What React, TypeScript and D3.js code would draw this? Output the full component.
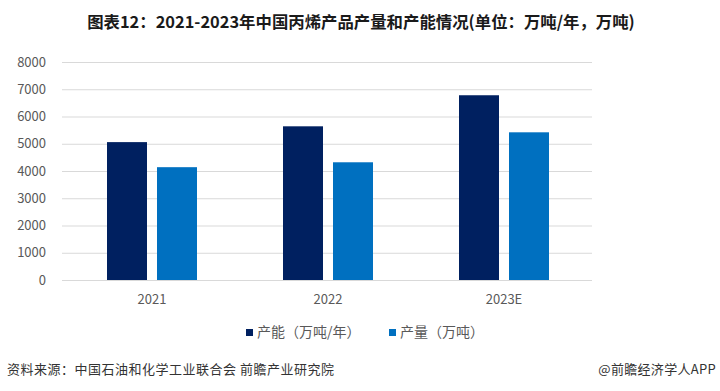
import { useEffect, useRef } from "react";
import * as d3 from "d3";

const categories = ["2021", "2022", "2023E"];
const capacity = [5060, 5640, 6780];
const production = [4140, 4320, 5420];
const seriesNames = ["产能（万吨/年）", "产量（万吨）"];
const yTicks = [0, 1000, 2000, 3000, 4000, 5000, 6000, 7000, 8000];

const colors = ["#002060", "#0070C0"];
const FONT = "'Noto Sans CJK SC', 'Noto Sans', sans-serif";

export default function App() {
    const svgRef = useRef<SVGSVGElement>(null);

    useEffect(() => {
        if (!svgRef.current) return;
        const svg = d3.select(svgRef.current);
        svg.selectAll("*").remove();

        const W = 720, H = 391;
        const left = 64, right = 592, top = 62, bottom = 280;

        svg.append("rect").attr("width", W).attr("height", H).attr("fill", "#fff");

        // Title
        svg.append("text")
            .attr("x", 361).attr("y", 28)
            .attr("text-anchor", "middle")
            .attr("font-family", FONT)
            .attr("font-size", 16.4)
            .attr("font-weight", "bold")
            .attr("fill", "#1a1a1a")
            .text("图表12：2021-2023年中国丙烯产品产量和产能情况(单位：万吨/年，万吨)");

        const y = d3.scaleLinear().domain([0, 8000]).range([bottom, top]);
        const x = d3.scaleBand().domain(categories).range([left, right]);
        const inner = d3.scaleBand().domain(["0", "1"]).range([0, x.bandwidth()]).paddingInner(0.2).paddingOuter(0.86);

        // Grid
        const grid = svg.append("g")
            .attr("transform", `translate(${left - 2},0)`)
            .call(d3.axisLeft(y).tickValues(yTicks).tickSize(-(right - left + 2)).tickFormat(() => ""));
        grid.select(".domain").remove();
        grid.selectAll("line").attr("stroke", "#d9d9d9").attr("stroke-width", 1);

        // Y labels
        svg.append("g").selectAll("text").data(yTicks).join("text")
            .attr("x", 46).attr("y", d => y(d))
            .attr("dy", "0.35em")
            .attr("text-anchor", "end")
            .attr("font-family", FONT)
            .attr("font-size", 13)
            .attr("fill", "#595959")
            .text(d => d);

        // Bars
        const series = [capacity, production];
        series.forEach((vals, si) => {
            svg.append("g").selectAll("rect").data(vals).join("rect")
                .attr("x", (_, i) => x(categories[i])! + inner(String(si))!)
                .attr("y", d => y(d))
                .attr("width", inner.bandwidth())
                .attr("height", d => bottom - y(d))
                .attr("fill", colors[si]);
        });

        // X labels
        svg.append("g").selectAll("text").data(categories).join("text")
            .attr("x", d => x(d)! + x.bandwidth() / 2)
            .attr("y", 304)
            .attr("text-anchor", "middle")
            .attr("font-family", FONT)
            .attr("font-size", 13)
            .attr("fill", "#595959")
            .text(d => d);

        // Legend
        const legendX = [246, 389];
        seriesNames.forEach((name, i) => {
            svg.append("rect")
                .attr("x", legendX[i]).attr("y", 329)
                .attr("width", 7).attr("height", 7)
                .attr("fill", colors[i]);
            svg.append("text")
                .attr("x", legendX[i] + 11).attr("y", 337)
                .attr("font-family", FONT)
                .attr("font-size", 14)
                .attr("fill", "#595959")
                .text(name);
        });

        // Footer
        svg.append("text")
            .attr("x", 7).attr("y", 374)
            .attr("font-family", FONT)
            .attr("font-size", 13)
            .attr("letter-spacing", 0.5)
            .attr("fill", "#333")
            .text("资料来源：中国石油和化学工业联合会 前瞻产业研究院");
        svg.append("text")
            .attr("x", 716).attr("y", 374)
            .attr("text-anchor", "end")
            .attr("font-family", FONT)
            .attr("font-size", 13)
            .attr("letter-spacing", 0.3)
            .attr("fill", "#333")
            .text("@前瞻经济学人APP");
    }, []);

    return (
        <div style={{ position: "absolute", left: 0, top: 0 }}>
            <svg ref={svgRef} width={720} height={391} style={{ display: "block" }}></svg>
        </div>
    );
}
